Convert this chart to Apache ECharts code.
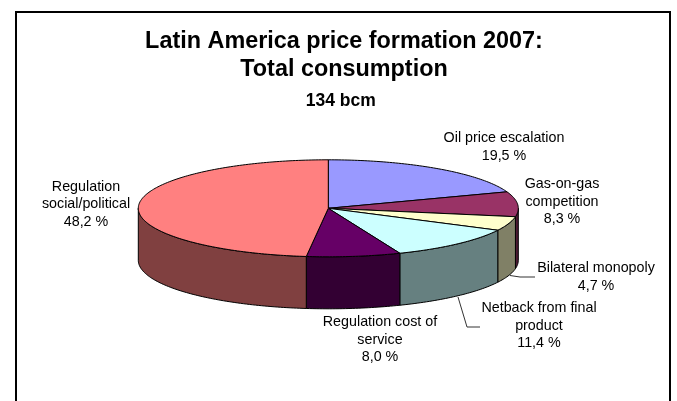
<!DOCTYPE html>
<html>
<head>
<meta charset="utf-8">
<style>html,body{margin:0;padding:0;background:#fff;overflow:hidden}#c{width:677px;height:401px}</style>
<script src="https://cdn.jsdelivr.net/npm/echarts@6/dist/echarts.min.js"></script>
</head>
<body>
<div id="c"></div>
<script>
const categories = ["Oil price escalation","Gas-on-gas\ncompetition","Bilateral monopoly","Netback from final\nproduct","Regulation cost of\nservice","Regulation\nsocial/political"];
const values = [19.5, 8.3, 4.7, 11.4, 8.0, 48.2];
const topColors = ["#9999FF","#993366","#FFFFCC","#CCFFFF","#660066","#FF8080"];
const wallColors = ["#4D4D80","#4D1A33","#808066","#668080","#330033","#804040"];
const labelCenters = [[504,147],[562,202],[596,277],[539,326],[380,340],[86,204.5]];

const cx = 328.3, cy = 208.3, rx = 190, ry = 48.5, depth = 52;
const total = values.reduce((a,b)=>a+b,0);
const starts = [];
values.reduce((acc,v,i)=>{starts[i]=acc;return acc+v;},0);
const toAngle = v => v/total*360;
const pt = (deg,dy) => {const t=deg*Math.PI/180;return [cx+rx*Math.sin(t),cy-ry*Math.cos(t)+(dy||0)];};
const arc = (a,b,dy) => {const p=[];const n=Math.max(2,Math.ceil(Math.abs(b-a)));for(let k=0;k<=n;k++)p.push(pt(a+(b-a)*k/n,dy));return p;};

function renderTop(params,api){
  const i=api.value(0), v=api.value(1);
  const a=toAngle(starts[i]), b=toAngle(starts[i]+v);
  return {type:'polygon',shape:{points:[[cx,cy]].concat(arc(a,b))},
    style:{fill:topColors[i],stroke:'#000',lineWidth:1,lineJoin:'round'}};
}
function renderWall(params,api){
  const i=api.value(0), v=api.value(1);
  const a=Math.max(90,toAngle(starts[i])), b=Math.min(270,toAngle(starts[i]+v));
  if(b<=a) return {type:'group',children:[]};
  return {type:'polygon',shape:{points:arc(a,b).concat(arc(b,a,depth))},
    style:{fill:wallColors[i],stroke:'#000',lineWidth:1,lineJoin:'round'}};
}
function renderLabel(params,api){
  const i=api.value(0), v=api.value(1);
  const txt=categories[i]+"\n"+v.toFixed(1).replace('.',',')+" %";
  return {type:'text',style:{text:txt,x:labelCenters[i][0],y:labelCenters[i][1],align:'center',verticalAlign:'middle',
    font:'14.3px "Liberation Sans"',lineHeight:17.5,fill:'#000'}};
}
const seriesData = values.map((v,i)=>[i,v]);
const chart = echarts.init(document.getElementById('c'),null,{renderer:'canvas',width:677,height:401});
chart.setOption({
  animation:false,
  backgroundColor:'#fff',
  title:[
    {text:"Latin America price formation 2007:\nTotal consumption",left:339,top:23,textAlign:'center',
     textStyle:{fontFamily:'"Liberation Sans"',fontSize:23.4,fontWeight:'bold',color:'#000',lineHeight:28}},
    {text:"134 bcm",left:335.7,top:86,textAlign:'center',
     textStyle:{fontFamily:'"Liberation Sans"',fontSize:17.5,fontWeight:'bold',color:'#000',lineHeight:20}}
  ],
  graphic:[
    {type:'rect',z:0,shape:{x:16,y:12,width:654,height:420},style:{fill:'none',stroke:'#000',lineWidth:2}},
    {type:'polyline',z:5,shape:{points:[[510,275.5],[520,277],[535,277]]},style:{fill:'none',stroke:'#333',lineWidth:1}},
    {type:'polyline',z:5,shape:{points:[[458,297],[467,327],[480,327]]},style:{fill:'none',stroke:'#333',lineWidth:1}}
  ],
  series:[
    {type:'custom',coordinateSystem:'none',z:2,silent:true,renderItem:renderWall,data:seriesData},
    {type:'custom',coordinateSystem:'none',z:3,silent:true,renderItem:renderTop,data:seriesData},
    {type:'custom',coordinateSystem:'none',z:4,silent:true,renderItem:renderLabel,data:seriesData}
  ]
});
</script>
</body>
</html>
